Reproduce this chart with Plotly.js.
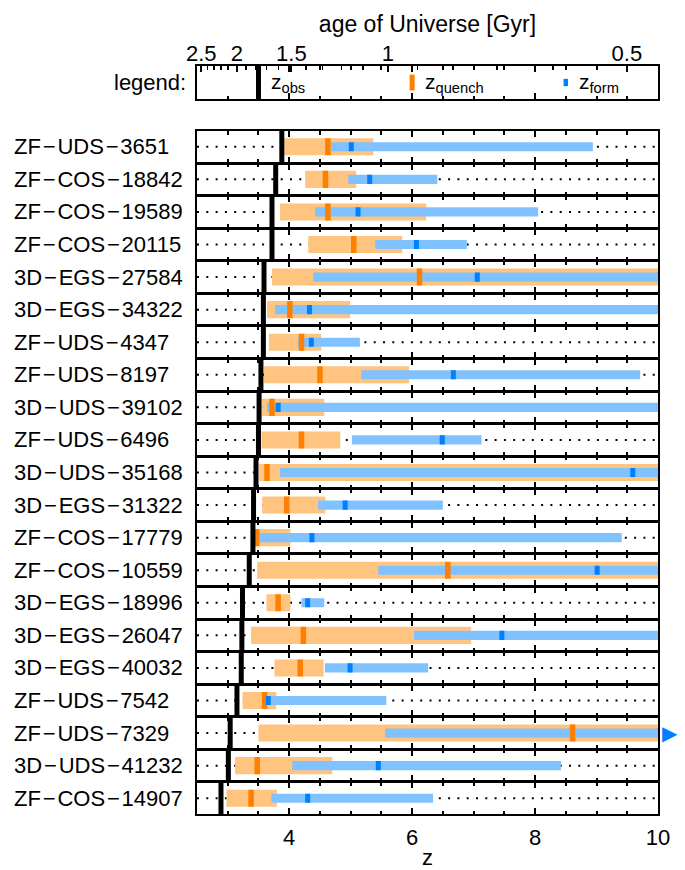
<!DOCTYPE html>
<html><head><meta charset="utf-8">
<script src="https://cdn.plot.ly/plotly-3.0.1.min.js"></script>
<style>html,body{margin:0;padding:0;background:#fff}</style>
</head><body><div id="chart" style="width:685px;height:870px"></div>
<script>
// ---------------- data ----------------
const names = ['ZF\u2212UDS\u22123651','ZF\u2212COS\u221218842','ZF\u2212COS\u221219589','ZF\u2212COS\u221220115',
  '3D\u2212EGS\u221227584','3D\u2212EGS\u221234322','ZF\u2212UDS\u22124347','ZF\u2212UDS\u22128197',
  '3D\u2212UDS\u221239102','ZF\u2212UDS\u22126496','3D\u2212UDS\u221235168','3D\u2212EGS\u221231322',
  'ZF\u2212COS\u221217779','ZF\u2212COS\u221210559','3D\u2212EGS\u221218996','3D\u2212EGS\u221226047',
  '3D\u2212EGS\u221240032','ZF\u2212UDS\u22127542','ZF\u2212UDS\u22127329','3D\u2212UDS\u221241232',
  'ZF\u2212COS\u221214907'];
const zObs      = [3.88,3.78,3.72,3.72,3.59,3.58,3.58,3.54,3.51,3.50,3.46,3.42,3.41,3.35,3.24,3.23,3.22,3.15,3.04,3.01,2.89];
const zQuench   = [4.63,4.59,4.63,5.05,6.12,4.01,4.20,4.50,3.72,4.20,3.64,3.96,3.47,6.58,3.82,4.23,4.18,3.60,8.61,3.48,3.38];
const zQuenchLo = [3.92,4.26,3.85,4.31,3.72,3.64,3.67,3.59,3.56,3.55,3.51,3.56,3.46,3.48,3.63,3.38,3.76,3.24,3.50,3.12,2.98];
const zQuenchHi = [5.37,5.09,6.23,5.84,10.0,4.99,4.52,5.95,4.57,4.83,10.0,4.59,4.02,10.0,4.02,6.96,4.56,3.79,10.0,4.70,3.80];
// null = z_form beyond the plotted range (drawn as an arrow)
const zForm     = [5.01,5.31,5.12,6.07,7.06,4.33,4.36,6.67,3.82,6.49,9.59,4.91,4.37,9.01,4.30,7.46,4.99,3.66,null,5.45,4.30];
const zFormLo   = [4.68,4.96,4.42,5.40,4.39,3.77,4.14,5.17,3.64,5.02,3.85,4.47,3.51,5.45,4.20,6.03,4.58,3.61,5.56,4.05,3.71];
const zFormHi   = [8.94,6.41,8.05,6.89,10.0,10.0,5.15,9.71,10.0,7.13,10.0,6.50,9.41,10.0,4.57,10.0,6.26,5.58,10.0,8.42,6.34];

const ageMajor = [2.5, 2, 1.5, 1, 0.5];
const ageMajorText = ['2.5','2','1.5','1','0.5'];
const ageMinor = [2.4,2.3,2.2,2.1,1.9,1.8,1.7,1.6,1.4,1.3,1.2,1.1,0.9,0.8,0.7,0.6];
const legendPos = [3.5, 6.0, 8.5];
const legendText = ['z<sub>obs</sub>','z<sub>quench</sub>','z<sub>form</sub>'];

// ---------------- helpers ----------------
const H0 = 70, Om = 0.3, OL = 0.7;
const tH = 977.8 / H0;
const Aage = 2 / (3 * Math.sqrt(OL)) * tH;
function zOfAge(t){ return Math.pow(Math.sqrt(OL/Om) / Math.sinh(t / Aage), 2/3) - 1; }

const FONT = 'Liberation Sans, Arial, Helvetica, sans-serif';
const W = 685, H = 870, ML = 197, MR = 27, MT = 66, MB = 55;
const plotH = H - MT - MB;
const py = y => (H - MB - y) / plotH;
const xRange = [2.5, 10];
const nRows = names.length;
const rowTop = 131, pitch = (815 - 131) / nRows, gap = 1;
const C = {qLight:'#FFC47F', qDark:'#FF8000', fLight:'#80C2FF', fDark:'#0080FF'};

const xBase = {
  range: xRange, type:'linear', showline:true, linewidth:2, linecolor:'black', mirror:'ticks',
  ticks:'inside', ticklen:6, tickwidth:2, tickcolor:'black', tickmode:'linear', tick0:0, dtick:2,
  minor:{ticks:'inside', ticklen:3.5, tickwidth:2, tickcolor:'black', tickmode:'linear', tick0:0, dtick:0.5},
  showgrid:false, zeroline:false, showticklabels:false, fixedrange:true
};
const yBase = {
  range:[0,1], type:'linear', showline:true, linewidth:2, linecolor:'black', mirror:true,
  ticks:'', showticklabels:false, showgrid:false, zeroline:false, fixedrange:true
};

const traces = [];
const annotations = [];
const shapes = [];
const layout = {
  width:W, height:H, margin:{l:ML, r:MR, t:MT, b:MB, pad:0},
  paper_bgcolor:'white', plot_bgcolor:'white', showlegend:false, barmode:'overlay',
  hovermode:false, font:{family:FONT, size:22, color:'black'}, annotations, shapes
};

function vseg(xa, ya, x, y0, y1, color, w){
  traces.push({type:'scatter', mode:'lines', xaxis:xa, yaxis:ya, x:[x,x], y:[y0,y1],
    line:{color:color, width:w}, hoverinfo:'skip', cliponaxis:true});
}

// legend panel (axis 1)
layout.xaxis = Object.assign({}, xBase, {anchor:'y', domain:[0,1]});
layout.yaxis = Object.assign({}, yBase, {anchor:'x', domain:[py(99), 1]});
vseg('x','y', legendPos[0], 0, 1, 'black', 5);
vseg('x','y', legendPos[1], 0.26, 0.74, C.qDark, 5);
vseg('x','y', legendPos[2], 0.39, 0.61, C.fDark, 4.5);
legendText.forEach((t,i)=>annotations.push({xref:'x', yref:'y domain', x:legendPos[i], y:0.5,
  xanchor:'left', yanchor:'middle', xshift:11, yshift:-1, text:t, showarrow:false, font:{size:21}}));
annotations.push({xref:'paper', yref:'y domain', x:-9/(W-ML-MR), y:0.5, xanchor:'right', yanchor:'middle',
  text:'legend:', showarrow:false, font:{size:22}});

// top age axis
layout['xaxis' + (nRows+2)] = {
  overlaying:'x', anchor:'y', side:'top', range:xRange, type:'linear',
  tickmode:'array', tickvals:ageMajor.map(zOfAge), ticktext:ageMajorText,
  ticks:'inside', ticklen:6, tickwidth:2, tickcolor:'black', showline:false,
  minor:{tickmode:'array', tickvals:ageMinor.map(zOfAge), ticks:'inside', ticklen:3.5, tickwidth:1.5, tickcolor:'black'},
  showgrid:false, zeroline:false, fixedrange:true, tickfont:{size:22},
  title:{text:'age of Universe [Gyr]', font:{size:23}, standoff:1}
};
traces.push({type:'scatter', mode:'markers', xaxis:'x'+(nRows+2), yaxis:'y', x:[xRange[0]], y:[-5],
  marker:{size:1, color:'rgba(0,0,0,0)'}, hoverinfo:'skip'});

// rows
for (let i = 0; i < nRows; i++) {
  const k = i + 2, xa = 'x' + k, ya = 'y' + k;
  const top = rowTop + i * pitch, bot = top + pitch - gap;
  layout['xaxis' + k] = Object.assign({}, xBase, {anchor:ya, domain:[0,1]});
  layout['yaxis' + k] = Object.assign({}, yBase, {anchor:xa, domain:[py(bot), py(top)]});
  // dotted guide (below the bars)
  shapes.push({type:'line', layer:'below', xref:xa, yref:ya, x0:xRange[0], x1:xRange[1], y0:0.5, y1:0.5,
    line:{color:'black', width:2, dash:'2px,7.3px'}});
  // ranges
  traces.push({type:'bar', orientation:'h', xaxis:xa, yaxis:ya, y:[0.5], base:[zQuenchLo[i]],
    x:[zQuenchHi[i]-zQuenchLo[i]], width:0.54, marker:{color:C.qLight, line:{width:0}}, hoverinfo:'skip'});
  traces.push({type:'bar', orientation:'h', xaxis:xa, yaxis:ya, y:[0.5], base:[zFormLo[i]],
    x:[zFormHi[i]-zFormLo[i]], width:0.29, marker:{color:C.fLight, line:{width:0}}, hoverinfo:'skip'});
  vseg(xa, ya, zQuench[i], 0.23, 0.77, C.qDark, 5.5);
  if (zForm[i] !== null) {
    vseg(xa, ya, zForm[i], 0.355, 0.645, C.fDark, 5);
  } else {
    annotations.push({xref:xa, yref:ya + ' domain', x:xRange[1], y:0.5, xanchor:'left', yanchor:'middle',
      xshift:2, text:'\u25B6', showarrow:false, font:{size:20, color:C.fDark, family:'DejaVu Sans'}});
  }
  vseg(xa, ya, zObs[i], 0, 1, 'black', 5);
  annotations.push({xref:'paper', yref:ya + ' domain', x:(12-ML)/(W-ML-MR), y:0.5, xanchor:'left', yanchor:'middle',
    text:names[i].replace(/\u2212/g,'\u200A\u2212\u200A'), showarrow:false, font:{size:22}});
}
// bottom axis labels
const lastX = 'xaxis' + (nRows + 1);
layout[lastX].showticklabels = true;
layout[lastX].tickfont = {size:22};
layout[lastX].ticklabelstandoff = 3;
layout[lastX].title = {text:'z', font:{size:22}, standoff:0};

Plotly.newPlot('chart', traces, layout, {displayModeBar:false, staticPlot:true});
</script></body></html>
